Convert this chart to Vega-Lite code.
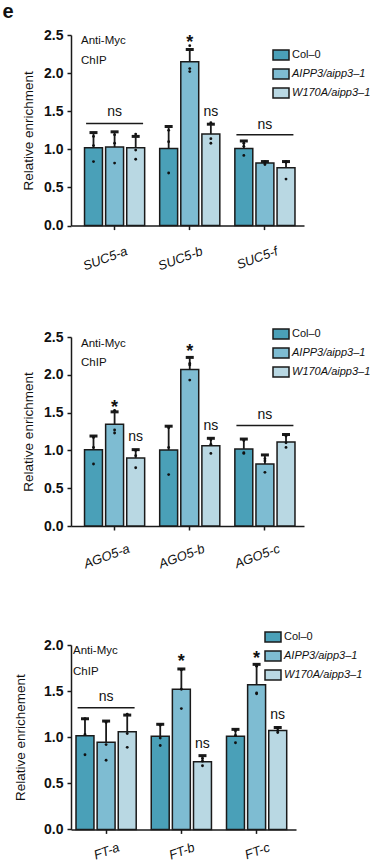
{
  "$schema": "https://vega.github.io/schema/vega-lite/v6.json",
  "padding": {"left": 2, "top": 2, "right": 2, "bottom": 2},
  "title": {"text": "e", "anchor": "start", "frame": "bounds", "fontSize": 20, "fontWeight": "bold", "font": "Liberation Sans", "color": "#111", "dx": -11, "offset": 6},
  "datasets": {
    "bars": [
      {"panel": 1, "target": "SUC5-a", "genotype": "Col–0", "mean": 1.02, "upper": 1.22},
      {"panel": 1, "target": "SUC5-a", "genotype": "AIPP3/aipp3–1", "mean": 1.03, "upper": 1.23},
      {"panel": 1, "target": "SUC5-a", "genotype": "W170A/aipp3–1", "mean": 1.02, "upper": 1.17},
      {"panel": 1, "target": "SUC5-b", "genotype": "Col–0", "mean": 1.01, "upper": 1.30},
      {"panel": 1, "target": "SUC5-b", "genotype": "AIPP3/aipp3–1", "mean": 2.15, "upper": 2.31},
      {"panel": 1, "target": "SUC5-b", "genotype": "W170A/aipp3–1", "mean": 1.20, "upper": 1.33},
      {"panel": 1, "target": "SUC5-f", "genotype": "Col–0", "mean": 1.01, "upper": 1.11},
      {"panel": 1, "target": "SUC5-f", "genotype": "AIPP3/aipp3–1", "mean": 0.82, "upper": 0.84},
      {"panel": 1, "target": "SUC5-f", "genotype": "W170A/aipp3–1", "mean": 0.76, "upper": 0.84},
      {"panel": 2, "target": "AGO5-a", "genotype": "Col–0", "mean": 1.01, "upper": 1.19},
      {"panel": 2, "target": "AGO5-a", "genotype": "AIPP3/aipp3–1", "mean": 1.345, "upper": 1.51},
      {"panel": 2, "target": "AGO5-a", "genotype": "W170A/aipp3–1", "mean": 0.90, "upper": 1.01},
      {"panel": 2, "target": "AGO5-b", "genotype": "Col–0", "mean": 1.005, "upper": 1.32},
      {"panel": 2, "target": "AGO5-b", "genotype": "AIPP3/aipp3–1", "mean": 2.07, "upper": 2.23},
      {"panel": 2, "target": "AGO5-b", "genotype": "W170A/aipp3–1", "mean": 1.06, "upper": 1.16},
      {"panel": 2, "target": "AGO5-c", "genotype": "Col–0", "mean": 1.02, "upper": 1.15},
      {"panel": 2, "target": "AGO5-c", "genotype": "AIPP3/aipp3–1", "mean": 0.82, "upper": 0.94},
      {"panel": 2, "target": "AGO5-c", "genotype": "W170A/aipp3–1", "mean": 1.11, "upper": 1.21},
      {"panel": 3, "target": "FT-a", "genotype": "Col–0", "mean": 1.016, "upper": 1.20},
      {"panel": 3, "target": "FT-a", "genotype": "AIPP3/aipp3–1", "mean": 0.944, "upper": 1.175},
      {"panel": 3, "target": "FT-a", "genotype": "W170A/aipp3–1", "mean": 1.06, "upper": 1.24},
      {"panel": 3, "target": "FT-b", "genotype": "Col–0", "mean": 1.01, "upper": 1.14},
      {"panel": 3, "target": "FT-b", "genotype": "AIPP3/aipp3–1", "mean": 1.52, "upper": 1.74},
      {"panel": 3, "target": "FT-b", "genotype": "W170A/aipp3–1", "mean": 0.734, "upper": 0.80},
      {"panel": 3, "target": "FT-c", "genotype": "Col–0", "mean": 1.01, "upper": 1.085},
      {"panel": 3, "target": "FT-c", "genotype": "AIPP3/aipp3–1", "mean": 1.57, "upper": 1.79},
      {"panel": 3, "target": "FT-c", "genotype": "W170A/aipp3–1", "mean": 1.074, "upper": 1.105}
    ],
    "dots": [
      {"panel": 1, "target": "SUC5-a", "genotype": "Col–0", "value": 0.84},
      {"panel": 1, "target": "SUC5-a", "genotype": "Col–0", "value": 1.05},
      {"panel": 1, "target": "SUC5-a", "genotype": "Col–0", "value": 1.17},
      {"panel": 1, "target": "SUC5-a", "genotype": "AIPP3/aipp3–1", "value": 0.82},
      {"panel": 1, "target": "SUC5-a", "genotype": "AIPP3/aipp3–1", "value": 1.08},
      {"panel": 1, "target": "SUC5-a", "genotype": "AIPP3/aipp3–1", "value": 1.19},
      {"panel": 1, "target": "SUC5-a", "genotype": "W170A/aipp3–1", "value": 0.87},
      {"panel": 1, "target": "SUC5-a", "genotype": "W170A/aipp3–1", "value": 0.99},
      {"panel": 1, "target": "SUC5-a", "genotype": "W170A/aipp3–1", "value": 1.20},
      {"panel": 1, "target": "SUC5-b", "genotype": "Col–0", "value": 0.69},
      {"panel": 1, "target": "SUC5-b", "genotype": "Col–0", "value": 1.10},
      {"panel": 1, "target": "SUC5-b", "genotype": "Col–0", "value": 1.25},
      {"panel": 1, "target": "SUC5-b", "genotype": "AIPP3/aipp3–1", "value": 2.02},
      {"panel": 1, "target": "SUC5-b", "genotype": "AIPP3/aipp3–1", "value": 2.06},
      {"panel": 1, "target": "SUC5-b", "genotype": "AIPP3/aipp3–1", "value": 2.36},
      {"panel": 1, "target": "SUC5-b", "genotype": "W170A/aipp3–1", "value": 1.08},
      {"panel": 1, "target": "SUC5-b", "genotype": "W170A/aipp3–1", "value": 1.14},
      {"panel": 1, "target": "SUC5-b", "genotype": "W170A/aipp3–1", "value": 1.35},
      {"panel": 1, "target": "SUC5-f", "genotype": "Col–0", "value": 0.92},
      {"panel": 1, "target": "SUC5-f", "genotype": "Col–0", "value": 1.04},
      {"panel": 1, "target": "SUC5-f", "genotype": "Col–0", "value": 1.08},
      {"panel": 1, "target": "SUC5-f", "genotype": "AIPP3/aipp3–1", "value": 0.80},
      {"panel": 1, "target": "SUC5-f", "genotype": "AIPP3/aipp3–1", "value": 0.82},
      {"panel": 1, "target": "SUC5-f", "genotype": "AIPP3/aipp3–1", "value": 0.84},
      {"panel": 1, "target": "SUC5-f", "genotype": "W170A/aipp3–1", "value": 0.61},
      {"panel": 1, "target": "SUC5-f", "genotype": "W170A/aipp3–1", "value": 0.83},
      {"panel": 1, "target": "SUC5-f", "genotype": "W170A/aipp3–1", "value": 0.84},
      {"panel": 2, "target": "AGO5-a", "genotype": "Col–0", "value": 0.82},
      {"panel": 2, "target": "AGO5-a", "genotype": "Col–0", "value": 1.04},
      {"panel": 2, "target": "AGO5-a", "genotype": "Col–0", "value": 1.17},
      {"panel": 2, "target": "AGO5-a", "genotype": "AIPP3/aipp3–1", "value": 1.23},
      {"panel": 2, "target": "AGO5-a", "genotype": "AIPP3/aipp3–1", "value": 1.27},
      {"panel": 2, "target": "AGO5-a", "genotype": "AIPP3/aipp3–1", "value": 1.53},
      {"panel": 2, "target": "AGO5-a", "genotype": "W170A/aipp3–1", "value": 0.77},
      {"panel": 2, "target": "AGO5-a", "genotype": "W170A/aipp3–1", "value": 0.93},
      {"panel": 2, "target": "AGO5-a", "genotype": "W170A/aipp3–1", "value": 1.00},
      {"panel": 2, "target": "AGO5-b", "genotype": "Col–0", "value": 0.68},
      {"panel": 2, "target": "AGO5-b", "genotype": "Col–0", "value": 1.04},
      {"panel": 2, "target": "AGO5-b", "genotype": "Col–0", "value": 1.30},
      {"panel": 2, "target": "AGO5-b", "genotype": "AIPP3/aipp3–1", "value": 1.93},
      {"panel": 2, "target": "AGO5-b", "genotype": "AIPP3/aipp3–1", "value": 2.13},
      {"panel": 2, "target": "AGO5-b", "genotype": "AIPP3/aipp3–1", "value": 2.15},
      {"panel": 2, "target": "AGO5-b", "genotype": "W170A/aipp3–1", "value": 0.96},
      {"panel": 2, "target": "AGO5-b", "genotype": "W170A/aipp3–1", "value": 1.08},
      {"panel": 2, "target": "AGO5-b", "genotype": "W170A/aipp3–1", "value": 1.14},
      {"panel": 2, "target": "AGO5-c", "genotype": "Col–0", "value": 0.96},
      {"panel": 2, "target": "AGO5-c", "genotype": "Col–0", "value": 0.97},
      {"panel": 2, "target": "AGO5-c", "genotype": "Col–0", "value": 1.13},
      {"panel": 2, "target": "AGO5-c", "genotype": "AIPP3/aipp3–1", "value": 0.71},
      {"panel": 2, "target": "AGO5-c", "genotype": "AIPP3/aipp3–1", "value": 0.86},
      {"panel": 2, "target": "AGO5-c", "genotype": "AIPP3/aipp3–1", "value": 0.89},
      {"panel": 2, "target": "AGO5-c", "genotype": "W170A/aipp3–1", "value": 1.04},
      {"panel": 2, "target": "AGO5-c", "genotype": "W170A/aipp3–1", "value": 1.10},
      {"panel": 2, "target": "AGO5-c", "genotype": "W170A/aipp3–1", "value": 1.19},
      {"panel": 3, "target": "FT-a", "genotype": "Col–0", "value": 0.81},
      {"panel": 3, "target": "FT-a", "genotype": "Col–0", "value": 1.03},
      {"panel": 3, "target": "FT-a", "genotype": "Col–0", "value": 1.20},
      {"panel": 3, "target": "FT-a", "genotype": "AIPP3/aipp3–1", "value": 0.75},
      {"panel": 3, "target": "FT-a", "genotype": "AIPP3/aipp3–1", "value": 0.92},
      {"panel": 3, "target": "FT-a", "genotype": "AIPP3/aipp3–1", "value": 1.16},
      {"panel": 3, "target": "FT-a", "genotype": "W170A/aipp3–1", "value": 0.89},
      {"panel": 3, "target": "FT-a", "genotype": "W170A/aipp3–1", "value": 1.04},
      {"panel": 3, "target": "FT-a", "genotype": "W170A/aipp3–1", "value": 1.25},
      {"panel": 3, "target": "FT-b", "genotype": "Col–0", "value": 0.91},
      {"panel": 3, "target": "FT-b", "genotype": "Col–0", "value": 0.99},
      {"panel": 3, "target": "FT-b", "genotype": "Col–0", "value": 1.13},
      {"panel": 3, "target": "FT-b", "genotype": "AIPP3/aipp3–1", "value": 1.31},
      {"panel": 3, "target": "FT-b", "genotype": "AIPP3/aipp3–1", "value": 1.52},
      {"panel": 3, "target": "FT-b", "genotype": "AIPP3/aipp3–1", "value": 1.73},
      {"panel": 3, "target": "FT-b", "genotype": "W170A/aipp3–1", "value": 0.69},
      {"panel": 3, "target": "FT-b", "genotype": "W170A/aipp3–1", "value": 0.74},
      {"panel": 3, "target": "FT-b", "genotype": "W170A/aipp3–1", "value": 0.77},
      {"panel": 3, "target": "FT-c", "genotype": "Col–0", "value": 0.94},
      {"panel": 3, "target": "FT-c", "genotype": "Col–0", "value": 1.02},
      {"panel": 3, "target": "FT-c", "genotype": "Col–0", "value": 1.07},
      {"panel": 3, "target": "FT-c", "genotype": "AIPP3/aipp3–1", "value": 1.47},
      {"panel": 3, "target": "FT-c", "genotype": "AIPP3/aipp3–1", "value": 1.48},
      {"panel": 3, "target": "FT-c", "genotype": "AIPP3/aipp3–1", "value": 1.77},
      {"panel": 3, "target": "FT-c", "genotype": "W170A/aipp3–1", "value": 1.05},
      {"panel": 3, "target": "FT-c", "genotype": "W170A/aipp3–1", "value": 1.07},
      {"panel": 3, "target": "FT-c", "genotype": "W170A/aipp3–1", "value": 1.10}
    ],
    "sig": [
      {"panel": 1, "target": "SUC5-a", "genotype": "AIPP3/aipp3–1", "label": "ns", "y": 1.44},
      {"panel": 1, "target": "SUC5-b", "genotype": "W170A/aipp3–1", "label": "ns", "y": 1.44},
      {"panel": 1, "target": "SUC5-f", "genotype": "AIPP3/aipp3–1", "label": "ns", "y": 1.27},
      {"panel": 2, "target": "AGO5-a", "genotype": "W170A/aipp3–1", "label": "ns", "y": 1.12},
      {"panel": 2, "target": "AGO5-b", "genotype": "W170A/aipp3–1", "label": "ns", "y": 1.27},
      {"panel": 2, "target": "AGO5-c", "genotype": "AIPP3/aipp3–1", "label": "ns", "y": 1.41},
      {"panel": 3, "target": "FT-a", "genotype": "AIPP3/aipp3–1", "label": "ns", "y": 1.39},
      {"panel": 3, "target": "FT-b", "genotype": "W170A/aipp3–1", "label": "ns", "y": 0.88},
      {"panel": 3, "target": "FT-c", "genotype": "W170A/aipp3–1", "label": "ns", "y": 1.20}
    ],
    "stars": [
      {"panel": 1, "target": "SUC5-b", "genotype": "AIPP3/aipp3–1", "label": "*", "y": 2.33},
      {"panel": 2, "target": "AGO5-a", "genotype": "AIPP3/aipp3–1", "label": "*", "y": 1.49},
      {"panel": 2, "target": "AGO5-b", "genotype": "AIPP3/aipp3–1", "label": "*", "y": 2.23},
      {"panel": 3, "target": "FT-b", "genotype": "AIPP3/aipp3–1", "label": "*", "y": 1.76},
      {"panel": 3, "target": "FT-c", "genotype": "AIPP3/aipp3–1", "label": "*", "y": 1.79}
    ],
    "lines": [
      {"panel": 1, "target": "SUC5-a", "y": 1.34},
      {"panel": 1, "target": "SUC5-f", "y": 1.19},
      {"panel": 2, "target": "AGO5-c", "y": 1.33},
      {"panel": 3, "target": "FT-a", "y": 1.32}
    ],
    "notes": [
      {"panel": 1, "target": "SUC5-a", "genotype": "Col–0", "label": "Anti-Myc", "y": 2.38},
      {"panel": 1, "target": "SUC5-a", "genotype": "Col–0", "label": "ChIP", "y": 2.12},
      {"panel": 2, "target": "AGO5-a", "genotype": "Col–0", "label": "Anti-Myc", "y": 2.37},
      {"panel": 2, "target": "AGO5-a", "genotype": "Col–0", "label": "ChIP", "y": 2.12},
      {"panel": 3, "target": "FT-a", "genotype": "Col–0", "label": "Anti-Myc", "y": 1.90},
      {"panel": 3, "target": "FT-a", "genotype": "Col–0", "label": "ChIP", "y": 1.68}
    ]
  },
  "config": {
    "font": "Liberation Sans",
    "view": {"stroke": null},
    "axis": {"domainColor": "#1a1a1a", "domainWidth": 1.5, "tickColor": "#1a1a1a", "tickWidth": 1.5, "labelColor": "#111", "titleColor": "#111", "grid": false}
  },
  "spacing": 59,
  "align": "none",
  "resolve": {"scale": {"x": "independent", "y": "independent", "xOffset": "independent", "color": "independent"}, "legend": {"color": "independent"}},
  "vconcat": [
    {
      "spacing": 54,
      "align": "none",
      "resolve": {"scale": {"x": "independent", "y": "independent", "xOffset": "independent", "color": "independent"}, "legend": {"color": "independent"}},
      "vconcat": [
        {
          "width": 233, "height": 190.6,
          "encoding": {
            "x": {"field": "target", "type": "nominal", "scale": {"paddingInner": 0.2, "paddingOuter": 0.15, "align": 0.6},
                  "axis": {"title": null, "labels": false, "tickSize": 4}},
            "y": {"type": "quantitative", "scale": {"domain": [0, 2.5], "nice": false},
                  "axis": {"title": "Relative enrichment", "values": [0, 0.5, 1, 1.5, 2, 2.5], "format": ".1f", "labelFontSize": 14, "labelFontWeight": "bold", "tickSize": 4, "labelPadding": 4, "titleFontSize": 13.5, "titleFontWeight": "normal", "titlePadding": 8}}
          },
          "layer": [
            {"data": {"name": "bars"}, "transform": [{"filter": "datum.panel == 1"}],
             "mark": {"type": "bar", "stroke": "#1a1a1a", "strokeWidth": 1.5},
             "encoding": {
               "y": {"field": "mean", "type": "quantitative"},
               "xOffset": {"field": "genotype", "type": "nominal", "scale": {"domain": ["Col–0", "AIPP3/aipp3–1", "W170A/aipp3–1"], "paddingInner": 0.15, "paddingOuter": 0}},
               "color": {"field": "genotype", "type": "nominal", "scale": {"domain": ["Col–0", "AIPP3/aipp3–1", "W170A/aipp3–1"], "range": ["#4aa0b8", "#7ebcd2", "#b9d8e3"]},
                         "legend": {"title": null, "orient": "none", "legendX": 204, "legendY": 14, "padding": 0, "labelFontSize": 11, "labelColor": "#111", "symbolType": "M-1.6,-1L1.6,-1L1.6,1L-1.6,1Z", "symbolSize": 100, "symbolStrokeColor": "#1a1a1a", "symbolStrokeWidth": 1.5, "symbolOpacity": 1, "labelOffset": 5, "rowPadding": 3,
                                    "encode": {"labels": {"update": {"fontStyle": {"signal": "datum.label == 'Col–0' ? 'normal' : 'italic'"}}}}}}
             }},
            {"data": {"name": "bars"}, "transform": [{"filter": "datum.panel == 1"}],
             "mark": {"type": "rule", "color": "#1a1a1a", "strokeWidth": 1.8},
             "encoding": {"xOffset": {"field": "genotype", "type": "nominal"}, "y": {"field": "mean", "type": "quantitative"}, "y2": {"field": "upper"}}},
            {"data": {"name": "bars"}, "transform": [{"filter": "datum.panel == 1"}],
             "mark": {"type": "tick", "color": "#1a1a1a", "size": 8, "thickness": 3, "opacity": 1},
             "encoding": {"xOffset": {"field": "genotype", "type": "nominal"}, "y": {"field": "upper", "type": "quantitative"}}},
            {"data": {"name": "dots"}, "transform": [{"filter": "datum.panel == 1"}],
             "mark": {"type": "circle", "color": "#111", "size": 8, "opacity": 1},
             "encoding": {"xOffset": {"field": "genotype", "type": "nominal"}, "y": {"field": "value", "type": "quantitative"}}},
            {"data": {"name": "lines"}, "transform": [{"filter": "datum.panel == 1"}],
             "mark": {"type": "tick", "color": "#1a1a1a", "size": 57, "thickness": 1.5, "opacity": 1},
             "encoding": {"y": {"field": "y", "type": "quantitative"}}},
            {"data": {"name": "sig"}, "transform": [{"filter": "datum.panel == 1"}],
             "mark": {"type": "text", "fontSize": 14, "color": "#111", "baseline": "alphabetic"},
             "encoding": {"xOffset": {"field": "genotype", "type": "nominal"}, "y": {"field": "y", "type": "quantitative"}, "text": {"field": "label"}}},
            {"data": {"name": "stars"}, "transform": [{"filter": "datum.panel == 1"}],
             "mark": {"type": "text", "fontSize": 18, "fontWeight": "bold", "color": "#111", "baseline": "alphabetic"},
             "encoding": {"xOffset": {"field": "genotype", "type": "nominal"}, "y": {"field": "y", "type": "quantitative"}, "text": {"field": "label"}}},
            {"data": {"name": "notes"}, "transform": [{"filter": "datum.panel == 1"}],
             "mark": {"type": "text", "fontSize": 11.5, "color": "#111", "align": "left", "baseline": "alphabetic", "dx": -12.5},
             "encoding": {"xOffset": {"field": "genotype", "type": "nominal"}, "y": {"field": "y", "type": "quantitative"}, "text": {"field": "label"}}},
            {"data": {"name": "bars"}, "transform": [{"filter": "datum.panel == 1 && datum.genotype == 'Col–0'"}],
             "mark": {"type": "text", "fontSize": 13, "fontStyle": "italic", "color": "#111", "align": "right", "baseline": "top", "dx": 3, "dy": 22},
             "encoding": {"y": {"datum": 0, "type": "quantitative"}, "text": {"field": "target"}, "angle": {"value": -20}}}
          ]
        },
        {
          "width": 233, "height": 189,
          "encoding": {
            "x": {"field": "target", "type": "nominal", "scale": {"paddingInner": 0.2, "paddingOuter": 0.15, "align": 0.6},
                  "axis": {"title": null, "labels": false, "tickSize": 4}},
            "y": {"type": "quantitative", "scale": {"domain": [0, 2.5], "nice": false},
                  "axis": {"title": "Relative enrichment", "values": [0, 0.5, 1, 1.5, 2, 2.5], "format": ".1f", "labelFontSize": 14, "labelFontWeight": "bold", "tickSize": 4, "labelPadding": 4, "titleFontSize": 13.5, "titleFontWeight": "normal", "titlePadding": 8}}
          },
          "layer": [
            {"data": {"name": "bars"}, "transform": [{"filter": "datum.panel == 2"}],
             "mark": {"type": "bar", "stroke": "#1a1a1a", "strokeWidth": 1.5},
             "encoding": {
               "y": {"field": "mean", "type": "quantitative"},
               "xOffset": {"field": "genotype", "type": "nominal", "scale": {"domain": ["Col–0", "AIPP3/aipp3–1", "W170A/aipp3–1"], "paddingInner": 0.15, "paddingOuter": 0}},
               "color": {"field": "genotype", "type": "nominal", "scale": {"domain": ["Col–0", "AIPP3/aipp3–1", "W170A/aipp3–1"], "range": ["#4aa0b8", "#7ebcd2", "#b9d8e3"]},
                         "legend": {"title": null, "orient": "none", "legendX": 204, "legendY": -9, "padding": 0, "labelFontSize": 11, "labelColor": "#111", "symbolType": "M-1.6,-1L1.6,-1L1.6,1L-1.6,1Z", "symbolSize": 100, "symbolStrokeColor": "#1a1a1a", "symbolStrokeWidth": 1.5, "symbolOpacity": 1, "labelOffset": 5, "rowPadding": 3,
                                    "encode": {"labels": {"update": {"fontStyle": {"signal": "datum.label == 'Col–0' ? 'normal' : 'italic'"}}}}}}
             }},
            {"data": {"name": "bars"}, "transform": [{"filter": "datum.panel == 2"}],
             "mark": {"type": "rule", "color": "#1a1a1a", "strokeWidth": 1.8},
             "encoding": {"xOffset": {"field": "genotype", "type": "nominal"}, "y": {"field": "mean", "type": "quantitative"}, "y2": {"field": "upper"}}},
            {"data": {"name": "bars"}, "transform": [{"filter": "datum.panel == 2"}],
             "mark": {"type": "tick", "color": "#1a1a1a", "size": 8, "thickness": 3, "opacity": 1},
             "encoding": {"xOffset": {"field": "genotype", "type": "nominal"}, "y": {"field": "upper", "type": "quantitative"}}},
            {"data": {"name": "dots"}, "transform": [{"filter": "datum.panel == 2"}],
             "mark": {"type": "circle", "color": "#111", "size": 8, "opacity": 1},
             "encoding": {"xOffset": {"field": "genotype", "type": "nominal"}, "y": {"field": "value", "type": "quantitative"}}},
            {"data": {"name": "lines"}, "transform": [{"filter": "datum.panel == 2"}],
             "mark": {"type": "tick", "color": "#1a1a1a", "size": 57, "thickness": 1.5, "opacity": 1},
             "encoding": {"y": {"field": "y", "type": "quantitative"}}},
            {"data": {"name": "sig"}, "transform": [{"filter": "datum.panel == 2"}],
             "mark": {"type": "text", "fontSize": 14, "color": "#111", "baseline": "alphabetic"},
             "encoding": {"xOffset": {"field": "genotype", "type": "nominal"}, "y": {"field": "y", "type": "quantitative"}, "text": {"field": "label"}}},
            {"data": {"name": "stars"}, "transform": [{"filter": "datum.panel == 2"}],
             "mark": {"type": "text", "fontSize": 18, "fontWeight": "bold", "color": "#111", "baseline": "alphabetic"},
             "encoding": {"xOffset": {"field": "genotype", "type": "nominal"}, "y": {"field": "y", "type": "quantitative"}, "text": {"field": "label"}}},
            {"data": {"name": "notes"}, "transform": [{"filter": "datum.panel == 2"}],
             "mark": {"type": "text", "fontSize": 11.5, "color": "#111", "align": "left", "baseline": "alphabetic", "dx": -12.5},
             "encoding": {"xOffset": {"field": "genotype", "type": "nominal"}, "y": {"field": "y", "type": "quantitative"}, "text": {"field": "label"}}},
            {"data": {"name": "bars"}, "transform": [{"filter": "datum.panel == 2 && datum.genotype == 'Col–0'"}],
             "mark": {"type": "text", "fontSize": 13, "fontStyle": "italic", "color": "#111", "align": "right", "baseline": "top", "dx": 6, "dy": 20},
             "encoding": {"y": {"datum": 0, "type": "quantitative"}, "text": {"field": "target"}, "angle": {"value": -20}}}
          ]
        }
      ]
    },
    {
      "width": 225, "height": 184.4,
      "encoding": {
        "x": {"field": "target", "type": "nominal", "scale": {"paddingInner": 0.2, "paddingOuter": 0.095, "align": 0.35},
              "axis": {"title": null, "labels": false, "tickSize": 4}},
        "y": {"type": "quantitative", "scale": {"domain": [0, 2.0], "nice": false},
              "axis": {"title": "Relative enrichement", "values": [0, 0.5, 1, 1.5, 2], "format": ".1f", "labelFontSize": 14, "labelFontWeight": "bold", "tickSize": 4, "labelPadding": 4, "titleFontSize": 13.5, "titleFontWeight": "normal", "titlePadding": 16}}
      },
      "layer": [
        {"data": {"name": "bars"}, "transform": [{"filter": "datum.panel == 3"}],
         "mark": {"type": "bar", "stroke": "#1a1a1a", "strokeWidth": 1.5},
         "encoding": {
           "y": {"field": "mean", "type": "quantitative"},
           "xOffset": {"field": "genotype", "type": "nominal", "scale": {"domain": ["Col–0", "AIPP3/aipp3–1", "W170A/aipp3–1"], "paddingInner": 0.15, "paddingOuter": 0}},
           "color": {"field": "genotype", "type": "nominal", "scale": {"domain": ["Col–0", "AIPP3/aipp3–1", "W170A/aipp3–1"], "range": ["#4aa0b8", "#7ebcd2", "#b9d8e3"]},
                     "legend": {"title": null, "orient": "none", "legendX": 196, "legendY": -14, "padding": 0, "labelFontSize": 11, "labelColor": "#111", "symbolType": "M-1.6,-1L1.6,-1L1.6,1L-1.6,1Z", "symbolSize": 100, "symbolStrokeColor": "#1a1a1a", "symbolStrokeWidth": 1.5, "symbolOpacity": 1, "labelOffset": 5, "rowPadding": 3,
                                "encode": {"labels": {"update": {"fontStyle": {"signal": "datum.label == 'Col–0' ? 'normal' : 'italic'"}}}}}}
         }},
        {"data": {"name": "bars"}, "transform": [{"filter": "datum.panel == 3"}],
         "mark": {"type": "rule", "color": "#1a1a1a", "strokeWidth": 1.8},
         "encoding": {"xOffset": {"field": "genotype", "type": "nominal"}, "y": {"field": "mean", "type": "quantitative"}, "y2": {"field": "upper"}}},
        {"data": {"name": "bars"}, "transform": [{"filter": "datum.panel == 3"}],
         "mark": {"type": "tick", "color": "#1a1a1a", "size": 8, "thickness": 3, "opacity": 1},
         "encoding": {"xOffset": {"field": "genotype", "type": "nominal"}, "y": {"field": "upper", "type": "quantitative"}}},
        {"data": {"name": "dots"}, "transform": [{"filter": "datum.panel == 3"}],
         "mark": {"type": "circle", "color": "#111", "size": 8, "opacity": 1},
         "encoding": {"xOffset": {"field": "genotype", "type": "nominal"}, "y": {"field": "value", "type": "quantitative"}}},
        {"data": {"name": "lines"}, "transform": [{"filter": "datum.panel == 3"}],
         "mark": {"type": "tick", "color": "#1a1a1a", "size": 57, "thickness": 1.5, "opacity": 1},
         "encoding": {"y": {"field": "y", "type": "quantitative"}}},
        {"data": {"name": "sig"}, "transform": [{"filter": "datum.panel == 3"}],
         "mark": {"type": "text", "fontSize": 14, "color": "#111", "baseline": "alphabetic"},
         "encoding": {"xOffset": {"field": "genotype", "type": "nominal"}, "y": {"field": "y", "type": "quantitative"}, "text": {"field": "label"}}},
        {"data": {"name": "stars"}, "transform": [{"filter": "datum.panel == 3"}],
         "mark": {"type": "text", "fontSize": 18, "fontWeight": "bold", "color": "#111", "baseline": "alphabetic"},
         "encoding": {"xOffset": {"field": "genotype", "type": "nominal"}, "y": {"field": "y", "type": "quantitative"}, "text": {"field": "label"}}},
        {"data": {"name": "notes"}, "transform": [{"filter": "datum.panel == 3"}],
         "mark": {"type": "text", "fontSize": 11.5, "color": "#111", "align": "left", "baseline": "alphabetic", "dx": -12},
         "encoding": {"xOffset": {"field": "genotype", "type": "nominal"}, "y": {"field": "y", "type": "quantitative"}, "text": {"field": "label"}}},
        {"data": {"name": "bars"}, "transform": [{"filter": "datum.panel == 3 && datum.genotype == 'Col–0'"}],
         "mark": {"type": "text", "fontSize": 13, "fontStyle": "italic", "color": "#111", "align": "right", "baseline": "top", "dx": 6, "dy": 15},
         "encoding": {"y": {"datum": 0, "type": "quantitative"}, "text": {"field": "target"}, "angle": {"value": -20}}}
      ]
    }
  ]
}
